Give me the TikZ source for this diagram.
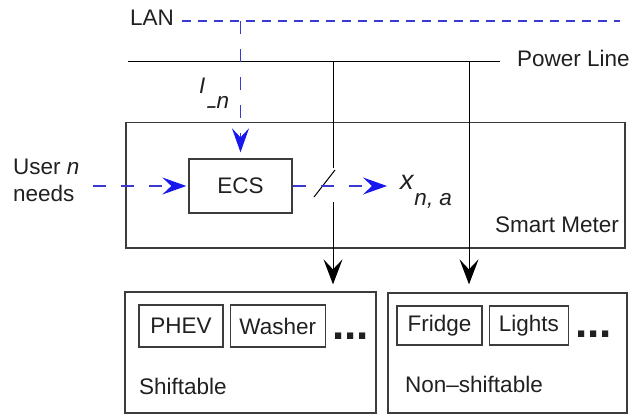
\documentclass[tikz,border=0pt]{standalone}
\usepackage{fontspec}
\usepackage{graphicx}
\setmainfont{Liberation Sans}
\usetikzlibrary{positioning,arrows.meta}
\definecolor{lan-blue}{HTML}{3A3AD2}
\definecolor{tip-blue}{HTML}{1717EE}
\definecolor{box-gray}{HTML}{3C3C3C}
\definecolor{ink}{HTML}{202020}
\tikzset{
  blk/.style={draw=box-gray, line width=1.3pt, inner sep=0pt},
  txt/.style={inner sep=0pt, anchor=base west},
  dotrow/.style={inner sep=0pt, anchor=west, font=\fontsize{44}{44}\bfseries\selectfont},
  sig/.style={lan-blue, line width=1.4pt, dash pattern=on 13pt off 15pt,
    -{Stealth[length=24pt, width=17pt, inset=9pt, color=tip-blue]}},
  pwr/.style={black, line width=1pt},
  pwrarrow/.style={pwr, -{Stealth[length=25pt, width=19pt, inset=10pt]}},
}

\begin{document}
\begin{tikzpicture}[x=1pt, y=-1pt,
    every node/.style={font=\fontsize{22.5}{27}\selectfont, text=ink}]
    % Diagram: smart meter with ECS, fed by LAN and power line
    % Coordinates in px of a 631 x 415 frame, y going down
    \useasboundingbox (0,0) rectangle (631,415);

    % LAN and power line at the top
    \node[txt] (lan) at (130,25) {LAN};
    \coordinate (lan-w) at (182,21);
    \coordinate (lan-e) at (620,21);
    \draw[lan-blue, line width=1.4pt, dash pattern=on 9pt off 7pt] (lan-w) -- (lan-e);
    \coordinate (pl-w) at (128,61);
    \coordinate (pl-e) at (500,61);
    \draw[pwr] (pl-w) -- (pl-e);
    \node[txt] (pltext) at (517,66) {Power Line};

    % smart meter and ECS
    \node[blk, minimum width=499pt, minimum height=125.5pt] (sm) at (375.5,185.25) {};
    \node[inner sep=0pt, anchor=base east] (smlabel) at (619,232) {Smart Meter};
    \node[blk, minimum width=103pt, minimum height=54pt] (ecs) at (240.5,186) {ECS};
    \node[inner sep=0pt, anchor=west, align=left] (user) at (13,180.5) {User \textit{n}\\needs};
    \node[txt] (lminus) at (199,93)
      {\textit{I}\raisebox{-20pt}{\scalebox{1.5}[1]{\textit{-}}}\raisebox{-15pt}{\textit{n}}};
    \node[txt] (xna) at (400,189)
      {{\fontsize{27}{27}\selectfont\textit{x}}\raisebox{-16pt}{\textit{n, a}}};

    % appliance groups
    \node[blk, minimum width=251pt, minimum height=121pt] (sh) at (250.5,352.5) {};
    \node[blk, minimum width=84pt, minimum height=42pt] (phev) at (181,326) {PHEV};
    \node[blk, minimum width=95pt, minimum height=42pt, right=6pt of phev] (washer) {Washer};
    \node[dotrow] (shdots) at (332,336) {...};
    \node[txt] (shlabel) at (139,394) {Shiftable};

    \node[blk, minimum width=239pt, minimum height=120pt] (ns) at (507.5,353) {};
    \node[blk, minimum width=85pt, minimum height=39pt] (fridge) at (439.5,325.5) {Fridge};
    \node[blk, minimum width=79pt, minimum height=39pt, right=6pt of fridge] (lights) {Lights};
    \node[dotrow] (nsdots) at (575,334) {...};
    \node[txt] (nslabel) at (405,392) {Non–shiftable};

    % power drops, the first one through the switch
    \coordinate (drop1) at (333,61);
    \coordinate (drop2) at (469,61);
    \coordinate (sw-top) at (333,168);
    \coordinate (sw-bot) at (333,202);
    \coordinate (sw-a) at (314,197);
    \coordinate (sw-b) at (335,170);
    \draw[pwr] (drop1) -- (sw-top);
    \draw[pwr] (sw-a) -- (sw-b);
    \draw[pwrarrow, shorten >=7pt] (sw-bot) -- (sw-bot |- sh.north);
    \draw[pwrarrow, shorten >=8pt] (drop2) -- (drop2 |- ns.north);

    % signals
    \coordinate (userout) at (93,186);
    \coordinate (sigend) at (387,186);
    \draw[sig, shorten >=6pt] (ecs.north |- lan-w) -- (ecs.north);
    \draw[sig, shorten >=2pt] (userout) -- (ecs.west);
    \draw[sig] (ecs.east) -- (sigend);
\end{tikzpicture}
\end{document}
